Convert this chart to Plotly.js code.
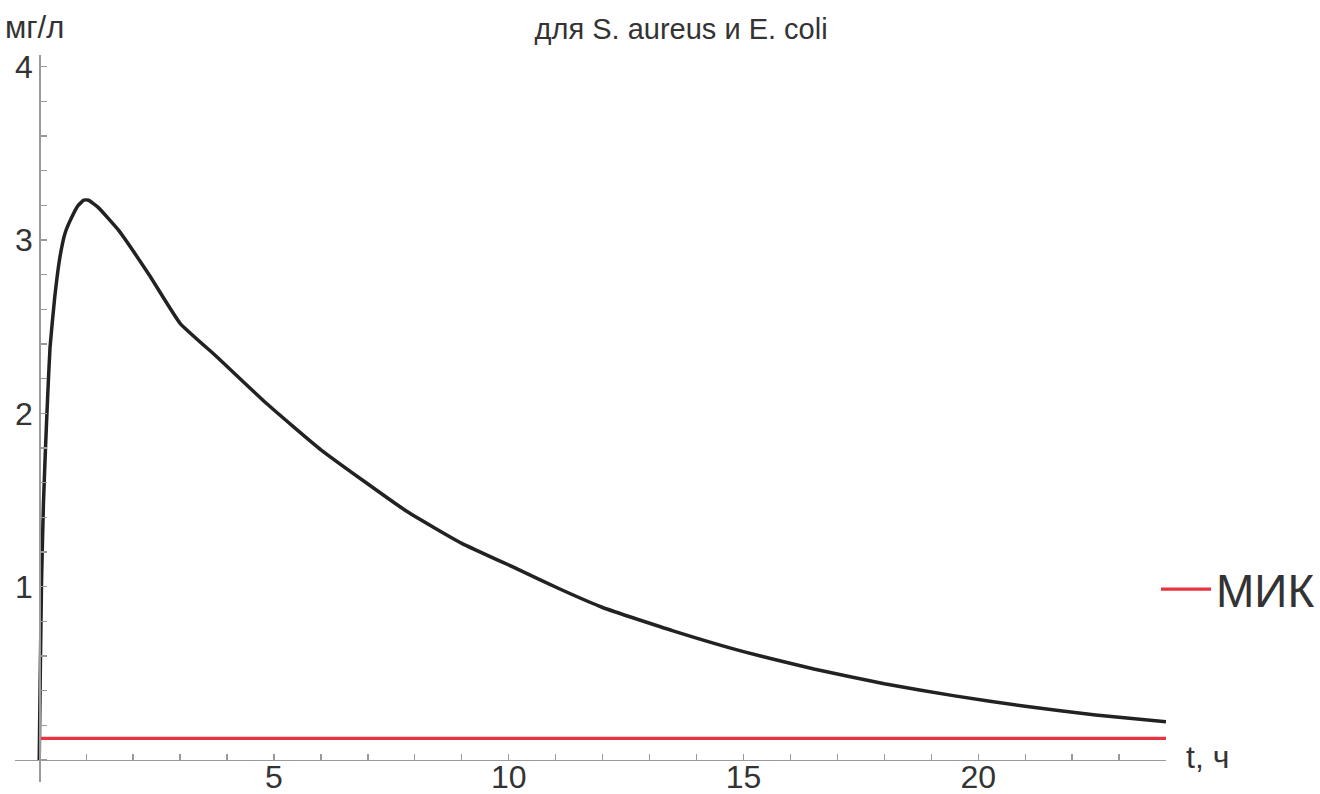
<!DOCTYPE html>
<html>
<head>
<meta charset="utf-8">
<script src="https://cdn.plot.ly/plotly-3.0.1.min.js"></script>
<style>html,body{margin:0;padding:0;background:#fff;}#chart{width:1320px;height:794px;}</style>
</head>
<body>
<div id="chart"></div>
<script>
// Time, hours
const timeH = [0, 0.02, 0.05, 0.09, 0.135, 0.18, 0.23, 0.33, 0.44, 0.55, 0.69, 0.83, 0.95, 1.05, 1.25, 1.68, 2.34, 3.0, 3.77, 4.83, 6.0, 7.8, 9.0, 10.2, 11.1, 12.0, 13.5, 15.0, 16.5, 18.0, 19.5, 21.0, 22.5, 24.0];
// Concentration, mg/L
const concMgL = [0, 0.45, 1.04, 1.48, 1.81, 2.1, 2.38, 2.67, 2.9, 3.04, 3.13, 3.2, 3.23, 3.23, 3.19, 3.06, 2.8, 2.52, 2.33, 2.06, 1.79, 1.44, 1.25, 1.1, 0.985, 0.88, 0.745, 0.625, 0.525, 0.44, 0.37, 0.31, 0.26, 0.22];
// MIC level
const micTime = [0, 24];
const micValue = [0.125, 0.125];
const xTickVals = [5, 10, 15, 20];
const yTickVals = [1, 2, 3, 4];

const titleText = "для S. aureus и E. coli";
const yLabel = "мг/л";
const xLabel = "t, ч";
const micName = "МИК";

const font = "Liberation Sans, Arial, sans-serif";
const axisGray = "#9a9a9a";
const textCol = "#333333";

const xr = [-0.516, 24.0];
const yr = [-0.127, 4.068];

const traces = [
  {x: timeH, y: concMgL, type: "scatter", mode: "lines", line: {color: "#222222", width: 3.5, shape: "spline", smoothing: 0.4}, showlegend: false, hoverinfo: "skip"},
  {x: micTime, y: micValue, type: "scatter", mode: "lines", name: micName, line: {color: "#e8343f", width: 3.2}, showlegend: true}
];

const layout = {
  width: 1320, height: 794, autosize: false,
  paper_bgcolor: "#ffffff", plot_bgcolor: "#ffffff",
  margin: {l: 15, r: 154, t: 55, b: 12, autoexpand: false},
  font: {family: font, color: textCol},
  title: {text: titleText, font: {family: font, size: 29, color: textCol}, x: 0.516, xref: "container", xanchor: "center", y: 1 - 29/794, yref: "container", yanchor: "middle"},
  xaxis: {
    range: xr, showgrid: false, zeroline: false, showline: true, linecolor: axisGray, linewidth: 1.5,
    anchor: "free", position: (0 - yr[0]) / (yr[1] - yr[0]),
    tickmode: "array", tickvals: xTickVals, ticks: "inside", ticklen: 6, tickwidth: 1.3, tickcolor: axisGray,
    tickfont: {family: font, size: 32, color: textCol}, ticklabelstandoff: -12,
    minor: {ticks: "inside", dtick: 1, tick0: 0, ticklen: 6, tickwidth: 1.3, tickcolor: axisGray, showgrid: false},
    automargin: false, fixedrange: true
  },
  yaxis: {
    range: yr, showgrid: false, zeroline: false, showline: true, linecolor: axisGray, linewidth: 1.5,
    anchor: "free", position: (0 - xr[0]) / (xr[1] - xr[0]),
    tickmode: "array", tickvals: yTickVals, ticks: "inside", ticklen: 6, tickwidth: 1.3, tickcolor: axisGray,
    tickfont: {family: font, size: 32, color: textCol},
    minor: {ticks: "inside", dtick: 0.2, tick0: 0, ticklen: 6, tickwidth: 1.3, tickcolor: axisGray, showgrid: false},
    automargin: false, fixedrange: true
  },
  legend: {x: 1 - 10/1151, xref: "paper", xanchor: "left", y: (0.985 - yr[0]) / (yr[1] - yr[0]), yanchor: "middle",
           font: {family: font, size: 46, color: textCol}, bgcolor: "rgba(0,0,0,0)", itemwidth: 50},
  annotations: [
    {text: xLabel, xref: "paper", x: 1, xanchor: "left", xshift: 18, yref: "y", y: 0, yanchor: "middle", yshift: 3, showarrow: false, font: {family: font, size: 32, color: textCol}},
    {text: yLabel, xref: "paper", x: 0, xanchor: "left", xshift: -12, yref: "paper", y: 1, yanchor: "bottom", yshift: 8, showarrow: false, font: {family: font, size: 31, color: textCol}}
  ]
};

Plotly.newPlot("chart", traces, layout, {displayModeBar: false, staticPlot: true});
</script>
</body>
</html>
